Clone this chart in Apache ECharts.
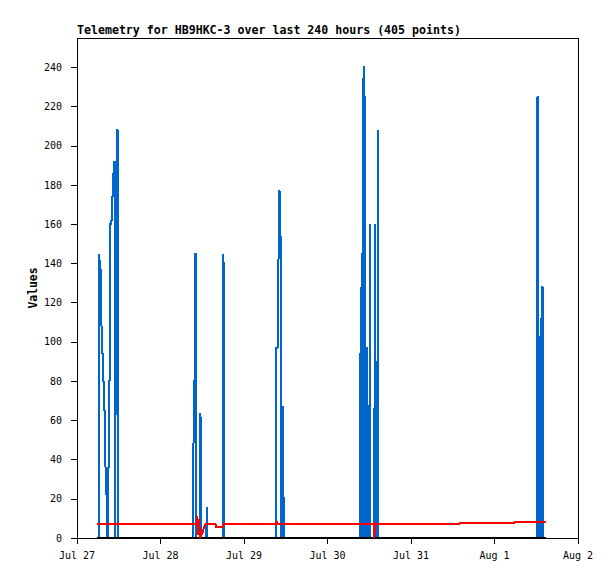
<!DOCTYPE html>
<html>
<head>
<meta charset="utf-8">
<script src="https://cdn.jsdelivr.net/npm/echarts@6.0.0/dist/echarts.min.js"></script>
<style>
  html, body { margin: 0; padding: 0; background: #fff; }
  #main { width: 615px; height: 579px; }
  #main svg path { shape-rendering: crispEdges; }
</style>
</head>
<body>
<div id="main"></div>
<script>
// hours since Jul 27 00:00
const dayLabels = ['Jul 27', 'Jul 28', 'Jul 29', 'Jul 30', 'Jul 31', 'Aug 1', 'Aug 2'];
const yTicks = [0, 20, 40, 60, 80, 100, 120, 140, 160, 180, 200, 220, 240];

// blue series, [hour, value]
const blueData = [
    [5.75, 0], [6.32, 0], [6.47, 145], [6.70, 137], [6.90, 122], [7.13, 108], [7.36, 94],
    [7.59, 80], [7.82, 65], [8.05, 50], [8.28, 36], [8.51, 22], [8.74, 0], [8.97, 36],
    [9.26, 80], [9.54, 160], [9.86, 162], [10.20, 174], [10.58, 186], [10.92, 192],
    [11.09, 0], [11.30, 177], [11.58, 208], [11.87, 0],
    [33.43, 0], [33.63, 80], [34.00, 145], [34.23, 0],
    [35.41, 0], [35.58, 64], [35.76, 0],
    [37.19, 0], [37.37, 16], [37.54, 0],
    [42.02, 0], [42.19, 145], [42.37, 0],
    [57.14, 0], [57.34, 97], [57.83, 97], [58.15, 177], [58.44, 154], [58.64, 106],
    [58.78, 0], [59.04, 67], [59.24, 0], [59.44, 23], [59.64, 0],
    [81.43, 0], [81.60, 128], [81.77, 0], [82.06, 145], [82.26, 0], [82.46, 240],
    [82.78, 225], [82.98, 0], [83.24, 97], [83.47, 0],
    [84.04, 0], [84.22, 160], [84.39, 0],
    [85.48, 0], [85.65, 160], [85.83, 0],
    [86.34, 0], [86.52, 208], [86.69, 0],
    [132.22, 0], [132.39, 225], [132.65, 158], [132.79, 0], [132.96, 93], [133.16, 19],
    [133.33, 112], [133.51, 0], [133.74, 128], [134.00, 0], [134.80, 0]
];

// red series, [hour, value]
const redData = [
    [5.75, 7], [34.35, 7], [34.45, 11.2], [34.86, 1.5], [35.05, 9.5], [35.44, 0],
    [35.93, 2], [36.36, 4.5], [36.93, 7], [39.90, 7], [39.95, 5.5], [41.85, 5.5],
    [41.90, 7], [57.30, 7], [57.33, 8.3], [57.60, 8.3], [57.63, 7], [85.25, 7], [85.28, 8.3],
    [85.45, 8.3], [85.48, 0], [85.58, 0], [85.61, 7], [109.80, 7], [109.85, 7.4],
    [125.60, 7.4], [125.65, 8], [134.80, 8]
];

// black series, [hour, value]
const blackData = [[5.75, 0], [134.80, 0]];

const mono = 'DejaVu Sans Mono';

let chart = echarts.init(document.getElementById('main'), null, { renderer: 'svg' });
let opt = {
    animation: false,
    backgroundColor: '#fff',
    title: {
        text: 'Telemetry for HB9HKC-3 over last 240 hours (405 points)',
        left: 77,
        top: 24,
        padding: 0,
        textStyle: { fontFamily: mono, fontSize: 11.6, fontWeight: 'bold', color: '#000' }
    },
    grid: {
        left: 77, right: 37, top: 38, bottom: 41,
        show: true, borderColor: '#000', borderWidth: 1
    },
    xAxis: {
        type: 'value',
        min: 0,
        max: 144,
        interval: 24,
        axisLine: { lineStyle: { color: '#000', width: 1 } },
        axisTick: { length: 6, lineStyle: { color: '#000' } },
        splitLine: { show: false },
        axisLabel: {
            margin: 12,
            fontFamily: mono,
            fontSize: 10,
            color: '#000',
            formatter: v => dayLabels[Math.round(v / 24)]
        }
    },
    yAxis: {
        type: 'value',
        min: 0,
        max: 255,
        interval: 20,
        name: 'Values',
        nameLocation: 'middle',
        nameGap: 39,
        nameMoveOverlap: false,
        nameTextStyle: { fontFamily: mono, fontSize: 11.4, fontWeight: 'bold', color: '#000' },
        axisLine: { show: true, lineStyle: { color: '#000', width: 1 } },
        axisTick: { show: true, length: 6, customValues: yTicks, lineStyle: { color: '#000' } },
        splitLine: { show: false },
        axisLabel: {
            margin: 15,
            customValues: yTicks,
            fontFamily: mono,
            fontSize: 10,
            color: '#000'
        }
    },
    series: [
        {
            type: 'line',
            data: blueData,
            step: 'middle',
            showSymbol: false,
            lineStyle: { color: '#0066cc', width: 2 }
        },
        {
            type: 'line',
            data: blackData,
            showSymbol: false,
            lineStyle: { color: '#000', width: 2.5 }
        },
        {
            type: 'line',
            data: redData,
            showSymbol: false,
            lineStyle: { color: '#ff0000', width: 2 }
        }
    ]
};
chart.setOption(opt);
</script>
</body>
</html>
